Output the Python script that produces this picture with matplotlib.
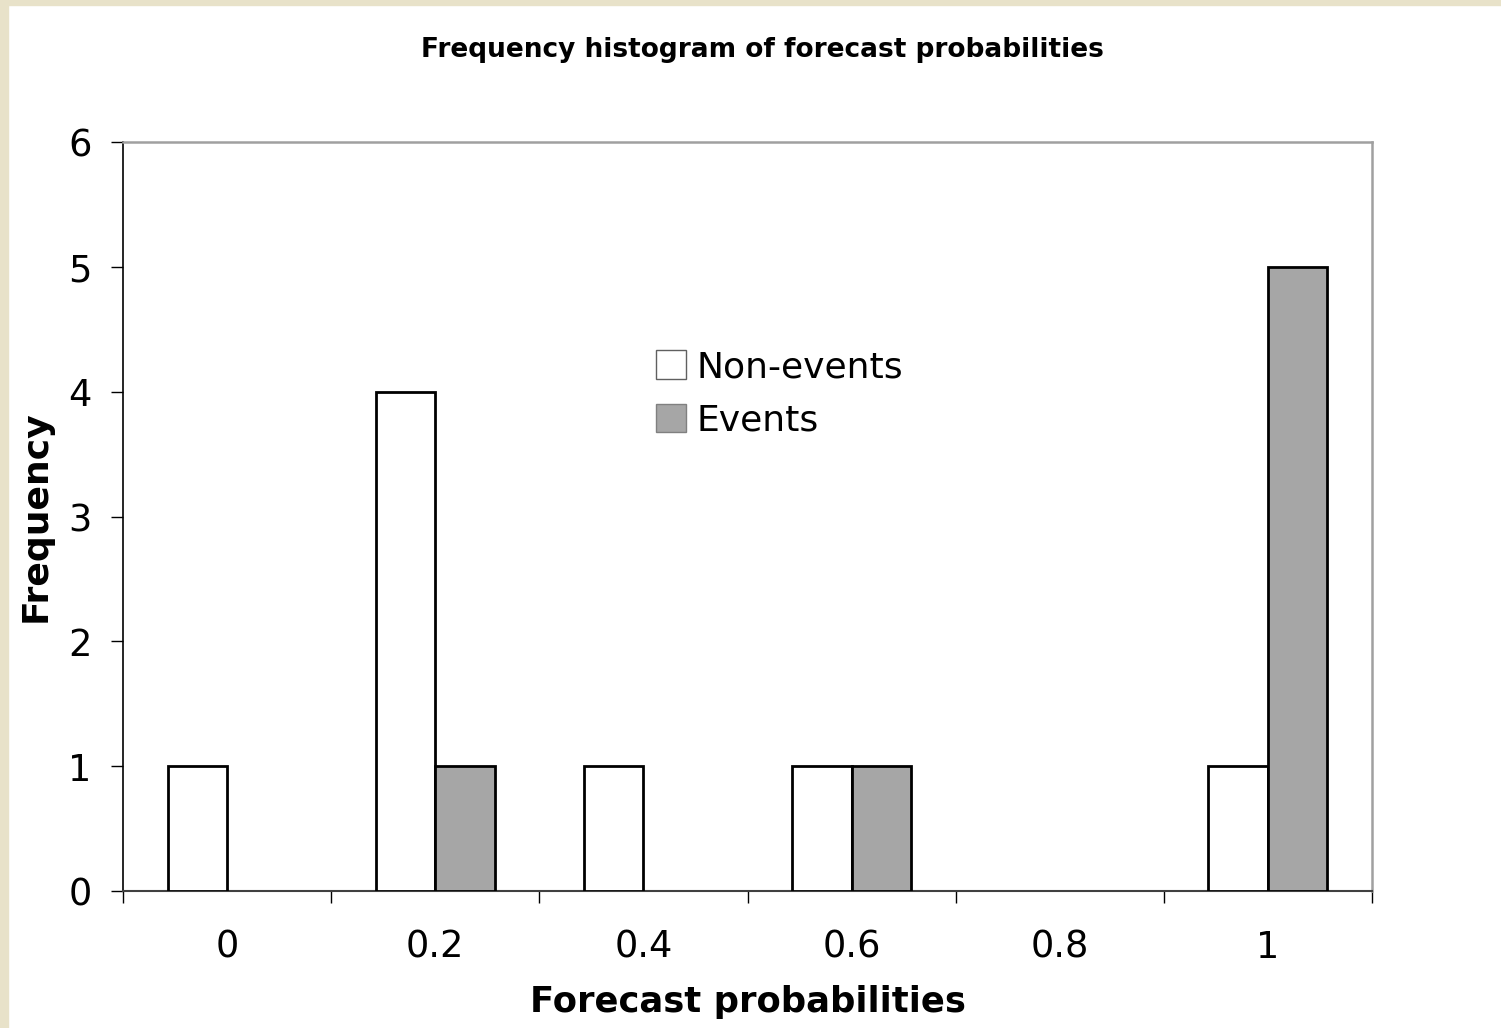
import matplotlib
matplotlib.use("Agg")
import matplotlib.pyplot as plt
from matplotlib.patches import Rectangle, Patch
import numpy as np

categories = ["0", "0.2", "0.4", "0.6", "0.8", "1"]
non_events = [1, 4, 1, 1, 0, 1]
events = [0, 1, 0, 1, 0, 5]
yticks = [0, 1, 2, 3, 4, 5, 6]

W, H = 1501, 1028
fig = plt.figure(figsize=(W / 100, H / 100), dpi=100)
fig.patch.set_facecolor("white")
beige = "#E8E2C9"
fig.patches.append(Rectangle((0, 0), 8 / W, 1, transform=fig.transFigure, color=beige, zorder=0))
fig.patches.append(Rectangle((0, 1 - 5 / H), 1, 5 / H, transform=fig.transFigure, color=beige, zorder=0))

ax = fig.add_axes([123 / W, 1 - 891 / H, (1372 - 123) / W, (891 - 142) / H])
x = np.arange(len(categories))
w = 1 / 3.5
b1 = ax.bar(x - w / 2, non_events, width=w, color="white", edgecolor="black", linewidth=2, zorder=3)
b2 = ax.bar(x + w / 2, events, width=w, color="#A6A6A6", edgecolor="black", linewidth=2, zorder=3)
for cont in (b1, b2):
    for p in cont.patches:
        if p.get_height() == 0:
            p.set_visible(False)

ax.set_xlim(-0.5, len(categories) - 0.5)
ax.set_ylim(0, 6)
ax.set_yticks(yticks)
ax.set_yticklabels([str(v) for v in yticks])
ax.set_xticks(np.arange(-0.5, len(categories), 1.0))
ax.set_xticklabels([])
ax.set_xticks(x, minor=True)
ax.set_xticklabels(categories, minor=True)
ax.tick_params(axis="x", which="major", direction="out", length=8.6, width=1, color="black")
ax.tick_params(axis="x", which="minor", length=0, labelsize=26.5, pad=27)
ax.tick_params(axis="y", direction="out", length=8.6, width=1, labelsize=26.5, pad=14, color="black")

for s in ["top", "right"]:
    ax.spines[s].set_color("#A0A0A0")
    ax.spines[s].set_linewidth(1.8)
ax.spines["left"].set_color("black")
ax.spines["left"].set_linewidth(1.2)
ax.spines["bottom"].set_color("#404040")
ax.spines["bottom"].set_linewidth(1.5)

ax.set_xlabel("Forecast probabilities", fontsize=25.5, fontweight="bold", labelpad=14)
ax.set_ylabel("Frequency", fontsize=26, fontweight="bold", labelpad=11)

fig.text(762 / W, 1 - 50 / H, "Frequency histogram of forecast probabilities",
         ha="center", va="center", fontsize=19, fontweight="bold")

handles = [Patch(facecolor="white", edgecolor="#606060", linewidth=1),
           Patch(facecolor="#A6A6A6", edgecolor="#808080", linewidth=1)]
ax.legend(handles, ["Non-events", "Events"], loc="upper left",
          bbox_to_anchor=(656 / W, 1 - 350 / H), bbox_transform=fig.transFigure,
          frameon=False, fontsize=26, handlelength=0.82, handleheight=0.82,
          handletextpad=0.3, borderpad=0, labelspacing=0.55, borderaxespad=0)

fig.savefig("out.png", dpi=100, facecolor=fig.get_facecolor())
